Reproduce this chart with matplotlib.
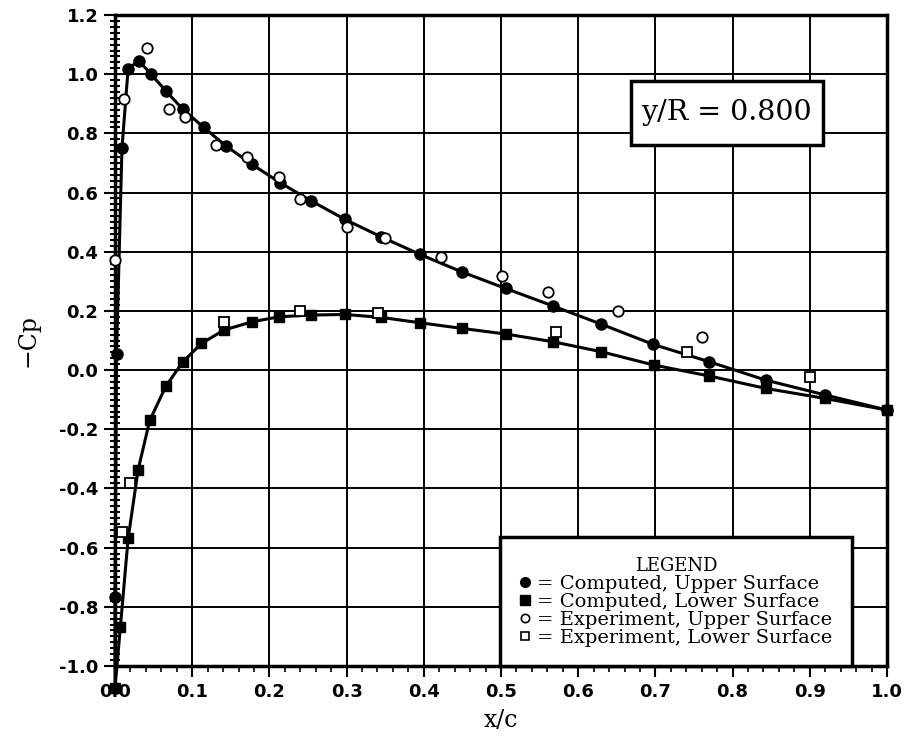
import numpy as np
import matplotlib
matplotlib.use("Agg")
import matplotlib.pyplot as plt
from matplotlib.lines import Line2D
from matplotlib.patches import Rectangle
from matplotlib.ticker import MultipleLocator, FormatStrFormatter

# computed, upper surface (x/c, -Cp)
cu_x = [0.0, 0.0, 0.002, 0.009, 0.017, 0.031, 0.046, 0.066, 0.088, 0.115,
        0.144, 0.177, 0.214, 0.254, 0.298, 0.345, 0.395, 0.449, 0.506, 0.567,
        0.630, 0.697, 0.770, 0.843, 0.920, 1.000]
cu_y = [-1.075, -0.766, 0.056, 0.749, 1.019, 1.045, 1.002, 0.943, 0.881, 0.820,
        0.757, 0.696, 0.633, 0.572, 0.509, 0.450, 0.391, 0.332, 0.276, 0.217,
        0.155, 0.087, 0.028, -0.034, -0.084, -0.135]

# computed, lower surface
cl_x = [0.0, 0.007, 0.017, 0.030, 0.045, 0.066, 0.088, 0.112, 0.141, 0.177,
        0.212, 0.254, 0.298, 0.345, 0.395, 0.449, 0.506, 0.567, 0.630, 0.698,
        0.770, 0.843, 0.920, 1.000]
cl_y = [-1.075, -0.867, -0.569, -0.336, -0.170, -0.054, 0.028, 0.090, 0.135, 0.163,
        0.180, 0.186, 0.188, 0.178, 0.160, 0.141, 0.122, 0.096, 0.062, 0.017,
        -0.020, -0.062, -0.096, -0.135]

# experiment, upper surface
eu_x = [0.0, 0.012, 0.042, 0.070, 0.091, 0.131, 0.171, 0.212, 0.240, 0.301,
        0.350, 0.422, 0.501, 0.561, 0.652, 0.761]
eu_y = [0.372, 0.915, 1.090, 0.881, 0.854, 0.762, 0.721, 0.651, 0.577, 0.484,
        0.445, 0.381, 0.318, 0.265, 0.199, 0.113]

# experiment, lower surface
el_x = [0.009, 0.019, 0.141, 0.240, 0.341, 0.571, 0.741, 0.900]
el_y = [-0.546, -0.383, 0.162, 0.199, 0.194, 0.130, 0.062, -0.025]

station = "y/R = 0.800"

serif = ["DejaVu Serif", "DejaVu Sans"]

fig = plt.figure(figsize=(9.11, 7.39), dpi=100)
ax = fig.add_axes([115/911, 73/739, 772/911, 651/739])

ax.plot(cu_x, cu_y, "-o", color="black", lw=2.2, ms=8, clip_on=False, zorder=4)
ax.plot(cl_x, cl_y, "-s", color="black", lw=2.2, ms=7.5, clip_on=False, zorder=4)
ax.plot(eu_x, eu_y, "o", mfc="white", mec="black", mew=1.3, ms=7.5,
        clip_on=False, zorder=5)
ax.plot(el_x, el_y, "s", mfc="white", mec="black", mew=1.3, ms=7,
        clip_on=False, zorder=5)

ax.set_xlim(0.0, 1.0)
ax.set_ylim(-1.0, 1.2)
ax.xaxis.set_major_locator(MultipleLocator(0.1))
ax.yaxis.set_major_locator(MultipleLocator(0.2))
ax.xaxis.set_minor_locator(MultipleLocator(0.02))
ax.yaxis.set_minor_locator(MultipleLocator(0.02))
ax.xaxis.set_major_formatter(FormatStrFormatter("%.1f"))
ax.yaxis.set_major_formatter(FormatStrFormatter("%.1f"))

ax.grid(True, which="major", color="black", lw=1.4)
ax.set_axisbelow(True)
for s in ax.spines.values():
    s.set_linewidth(2.5)

ax.tick_params(which="major", direction="out", length=8, width=1.5,
               labelsize=13, pad=4)
ax.tick_params(axis="y", which="minor", direction="inout", length=7, width=1.5)
ax.tick_params(axis="x", which="minor", direction="out", length=4, width=1.2)
for lab in ax.get_xticklabels() + ax.get_yticklabels():
    lab.set_fontweight("bold")

ax.set_xlabel("x/c", family=serif, fontsize=17, labelpad=6)
ax.set_ylabel("\u2212Cp", family=serif, fontsize=17, labelpad=14)

# station box
ax.add_patch(Rectangle((630.7/911, (739-145)/739), 192/911, 64.3/739,
                       transform=fig.transFigure, facecolor="white",
                       edgecolor="black", lw=2.5, zorder=6))
fig.text(726/911, 1 - 113/739, station, family=serif, fontsize=20.5,
         ha="center", va="center", zorder=7)

handles = [
    Line2D([], [], ls="none", marker="o", color="black", ms=7),
    Line2D([], [], ls="none", marker="s", color="black", ms=7),
    Line2D([], [], ls="none", marker="o", mfc="white", mec="black", mew=1.2, ms=6),
    Line2D([], [], ls="none", marker="s", mfc="white", mec="black", mew=1.2, ms=6),
]
labels = ["= Computed, Upper Surface", "= Computed, Lower Surface",
          "= Experiment, Upper Surface", "= Experiment, Lower Surface"]
leg = ax.legend(handles, labels, title="LEGEND", loc="lower right",
                bbox_to_anchor=(736.7/772, 0.0), borderaxespad=0,
                prop={"family": serif, "size": 14},
                title_fontproperties={"family": serif, "size": 13},
                handlelength=0.6, handletextpad=0.3, labelspacing=0.0,
                borderpad=1.0, fancybox=False, framealpha=1,
                edgecolor="black")
leg.get_frame().set_linewidth(2.5)
leg.set_zorder(8)

fig.savefig("out.png", dpi=100)
